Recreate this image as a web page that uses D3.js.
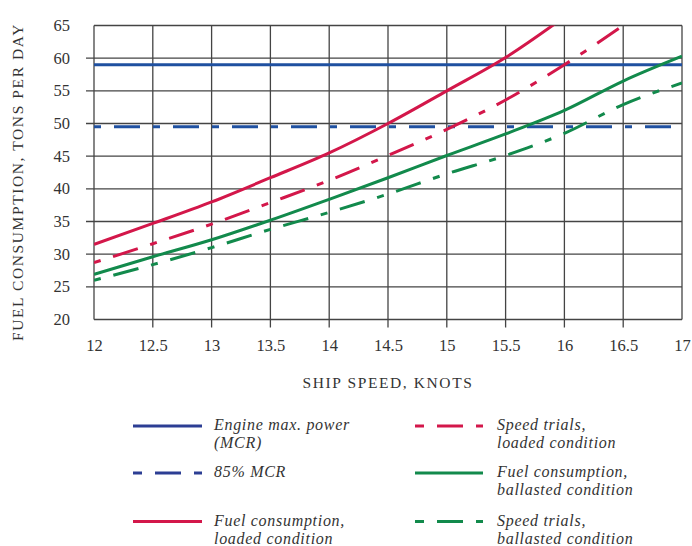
<!DOCTYPE html>
<html lang="en">
  <head>
    <meta charset="UTF-8" />
    <title>Fuel consumption</title>
    <style>
      body {
        margin: 0;
        background: #fff;
      }
      text {
        font-family: "Liberation Serif", "DejaVu Serif", serif;
        fill: #333;
      }
      .legend text {
        font-style: italic;
        font-size: 16px;
        letter-spacing: 0.7px;
      }
    </style>
  </head>
  <body>
    <svg id="chart" width="692" height="546"></svg>
  </body>
  <script src="https://cdn.jsdelivr.net/npm/d3@7"></script>
  <script>
    // speeds in knots, values in tons per day
    let speeds = [12, 12.5, 13, 13.5, 14, 14.5, 15, 15.5, 16, 16.5, 17];
    let yTicks = [20, 25, 30, 35, 40, 45, 50, 55, 60, 65];

    let mcr = [59, 59, 59, 59, 59, 59, 59, 59, 59, 59, 59];
    let mcr85 = [49.5, 49.5, 49.5, 49.5, 49.5, 49.5, 49.5, 49.5, 49.5, 49.5, 49.5];
    let fuelLoaded = [31.5, 34.7, 38, 41.7, 45.5, 50, 55, 60.1, 66.3, null, null];
    let trialsLoaded = [28.7, 31.6, 34.6, 37.9, 41.3, 45.1, 49.1, 53.6, 59, 65, null];
    let fuelBallasted = [26.9, 29.6, 32.2, 35.2, 38.4, 41.7, 45.1, 48.4, 52, 56.5, 60.3];
    let trialsBallasted = [26, 28.4, 31, 33.8, 36.4, 39.2, 42.3, 45.1, 48.5, 52.9, 56.2];

    let blue = "#1f50a0";
    let red = "#d3174a";
    let green = "#128a4c";
    let dashDot = "26,13,7,13";

    let series = [
      { name: ["Engine max. power", "(MCR)"], values: mcr, color: blue, dash: null },
      { name: ["85% MCR"], values: mcr85, color: blue, dash: dashDot },
      { name: ["Fuel consumption,", "loaded condition"], values: fuelLoaded, color: red, dash: null },
      { name: ["Speed trials,", "loaded condition"], values: trialsLoaded, color: red, dash: dashDot },
      { name: ["Fuel consumption,", "ballasted condition"], values: fuelBallasted, color: green, dash: null },
      { name: ["Speed trials,", "ballasted condition"], values: trialsBallasted, color: green, dash: dashDot },
    ];

    let svg = d3.select("#chart");
    let x = d3.scaleLinear().domain([12, 17]).range([94, 682]);
    let y = d3.scaleLinear().domain([20, 65]).range([319.5, 25.5]);

    svg
      .append("clipPath")
      .attr("id", "plot")
      .append("rect")
      .attr("x", x(12))
      .attr("y", y(65))
      .attr("width", x(17) - x(12))
      .attr("height", y(20) - y(65));

    // grid with tick stubs on the interior lines
    let grid = svg.append("g").attr("stroke", "#444").attr("stroke-width", 1.3);
    grid
      .selectAll(".v")
      .data(speeds)
      .enter()
      .append("line")
      .attr("x1", (d) => x(d))
      .attr("x2", (d) => x(d))
      .attr("y1", y(65))
      .attr("y2", (d) => (d === 12 || d === 17 ? y(20) : y(20) + 8));
    grid
      .selectAll(".h")
      .data(yTicks)
      .enter()
      .append("line")
      .attr("y1", (d) => y(d))
      .attr("y2", (d) => y(d))
      .attr("x1", (d) => (d === 20 || d === 65 ? x(12) : x(12) - 8))
      .attr("x2", x(17));

    let xAxis = d3
      .axisBottom(x)
      .tickValues(speeds)
      .tickSize(0)
      .tickPadding(0)
      .tickFormat((d) => d);
    svg
      .append("g")
      .attr("transform", `translate(0,${y(20) + 31})`)
      .call(xAxis)
      .call((g) => g.select(".domain").remove())
      .selectAll("text")
      .attr("dy", 0)
      .style("font-size", "16.5px")
      .style("fill", "#333");

    let yAxis = d3.axisLeft(y).tickValues(yTicks).tickSize(0).tickPadding(0);
    svg
      .append("g")
      .attr("transform", "translate(70,0)")
      .call(yAxis)
      .call((g) => g.select(".domain").remove())
      .selectAll("text")
      .attr("dy", "0.3em")
      .style("font-size", "16.5px")
      .style("fill", "#333");

    svg
      .append("text")
      .attr("transform", "translate(23,182) rotate(-90)")
      .attr("text-anchor", "middle")
      .style("font-size", "15.5px")
      .style("letter-spacing", "1.6px")
      .text("FUEL CONSUMPTION, TONS PER DAY");

    svg
      .append("text")
      .attr("x", 388)
      .attr("y", 388)
      .attr("text-anchor", "middle")
      .style("font-size", "15.5px")
      .style("letter-spacing", "1.6px")
      .text("SHIP SPEED, KNOTS");

    let line = d3
      .line()
      .defined((d) => d[1] !== null)
      .x((d) => x(d[0]))
      .y((d) => y(d[1]))
      .curve(d3.curveMonotoneX);

    svg
      .append("g")
      .attr("clip-path", "url(#plot)")
      .selectAll("path")
      .data(series)
      .enter()
      .append("path")
      .attr("d", (s) => line(speeds.map((v, i) => [v, s.values[i]])))
      .attr("fill", "none")
      .attr("stroke", (s) => s.color)
      .attr("stroke-width", 3)
      .attr("stroke-dasharray", (s) => s.dash)
      .attr("stroke-dashoffset", (s) => (s.dash ? 39 : null));

    // legend, two columns of three
    let legend = svg.append("g").attr("class", "legend");
    let rows = [426, 473, 521.5];
    let cols = [
      { x1: 133, x2: 202, tx: 214 },
      { x1: 415, x2: 483, tx: 497 },
    ];
    series.forEach((s, i) => {
      let c = cols[Math.floor(i / 3)];
      let ry = rows[i % 3];
      legend
        .append("line")
        .attr("x1", c.x1)
        .attr("x2", c.x2)
        .attr("y1", ry)
        .attr("y2", ry)
        .attr("stroke", s.color === blue ? "#2c3e94" : s.color)
        .attr("stroke-width", 3)
        .attr("stroke-dasharray", s.dash ? "9,13,26,13" : null);
      s.name.forEach((n, j) => {
        legend
          .append("text")
          .attr("x", c.tx)
          .attr("y", ry + 4 + j * 18)
          .text(n);
      });
    });
  </script>
</html>
